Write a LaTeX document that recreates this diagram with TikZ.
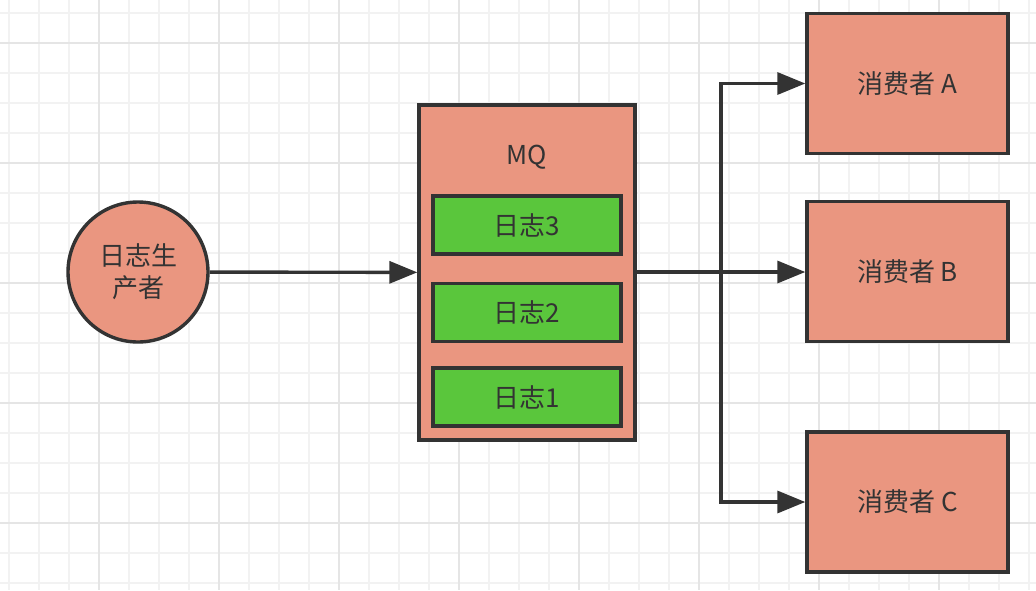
\documentclass[tikz,border=0pt]{standalone}
\usepackage{fontspec}
\setmainfont{Noto Sans CJK SC}
\usetikzlibrary{arrows.meta}
\definecolor{mysalmon}{HTML}{EA9680}
\definecolor{mygreen}{HTML}{5AC63C}
\definecolor{myline}{HTML}{333333}
\colorlet{gridminor}{black!5}
\colorlet{gridmajor}{black!10}

\tikzset{
  box/.style={draw=myline, line width=3.4pt, fill=mysalmon, font=\fontsize{26}{32}\selectfont, text=myline},
  logbox/.style={box, fill=mygreen, minimum width=188pt, minimum height=58pt},
  consumer/.style={box, minimum width=201pt, minimum height=140pt},
  flow/.style={draw=myline, line width=3.4pt, -{Triangle[length=28pt,width=22pt]}}
}

\begin{document}
\begin{tikzpicture}[x=1pt,y=-1pt]
\useasboundingbox (0,0) rectangle (1036,590);
\fill[white] (0,0) rectangle (1036,590);
% grid
\foreach \gx in {9,39,...,1036}
  \draw[gridminor, line width=1.2pt] (\gx,0) -- (\gx,590);
\foreach \gy in {13,43,...,590}
  \draw[gridminor, line width=1.2pt] (0,\gy) -- (1036,\gy);
\foreach \gx in {99,219,...,1036}
  \draw[gridmajor, line width=1.2pt] (\gx,0) -- (\gx,590);
\foreach \gy in {43,163,...,590}
  \draw[gridmajor, line width=1.2pt] (0,\gy) -- (1036,\gy);

\node[box, circle, minimum size=140pt, inner sep=0pt, align=center] (producer) at (138,272) {日志生\\产者};
\node[box, minimum width=216pt, minimum height=335pt] (mq) at (527,272.5) {};
\node[font=\fontsize{26}{32}\selectfont, text=myline] (mqlabel) at (527,157) {MQ};
\node[logbox] (log3) at (527,225) {日志3};
\node[logbox] (log2) at (527,312.5) {日志2};
\node[logbox] (log1) at (527,397) {日志1};

\node[consumer] (consA) at (907.5,83.5) {消费者 A};
\node[consumer] (consB) at (907.5,271.5) {消费者 B};
\node[consumer] (consC) at (907.5,502) {消费者 C};

\coordinate (split) at (721,272);
\draw[flow] (producer) -- (mq);
\draw[draw=myline, line width=3.4pt] (mq.east |- split) -- (split);
\draw[flow] (split) |- (consA);
\draw[flow] (split) -- (consB.west |- split);
\draw[flow] (split) |- (consC);
\end{tikzpicture}
\end{document}
